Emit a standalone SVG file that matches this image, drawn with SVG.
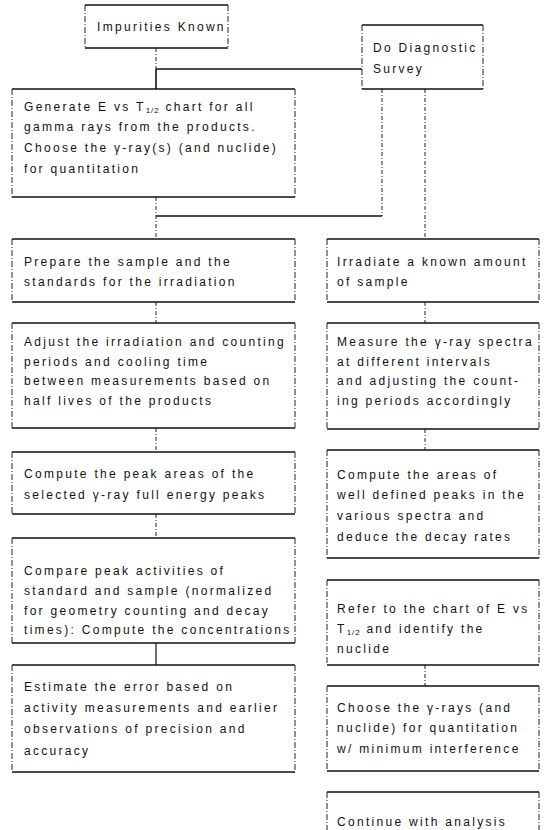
<svg xmlns="http://www.w3.org/2000/svg" width="546" height="830" viewBox="0 0 546 830">
<style>
.bg{fill:#fff}
.hl{stroke:#111;stroke-width:1.6;fill:none}
.vl{stroke:#222;stroke-width:1;stroke-dasharray:6 2 1 2;fill:none}
.cd{stroke:#222;stroke-width:1;stroke-dasharray:4 2 1 2;fill:none}
.cs{stroke:#111;stroke-width:1.6;fill:none}
text{font-family:"Liberation Sans",Arial,sans-serif;font-size:12px;letter-spacing:2.3px;fill:#111}
.sub{font-size:8px;letter-spacing:1px}
</style>
<rect class="bg" x="0" y="0" width="546" height="830"/>
<g id="connectors">
<path class="cd" d="M156 48V69"/>
<path class="cs" d="M156 69V89"/>
<path class="cs" d="M156 69H362"/>
<path class="cd" d="M382 89V216"/>
<path class="cs" d="M156 216H382"/>
<path class="cd" d="M156 197V239"/>
<path class="cd" d="M425 89V239"/>
<path class="cd" d="M156 302V323"/>
<path class="cd" d="M425 302V323"/>
<path class="cd" d="M156 428V452"/>
<path class="cd" d="M425 429V450"/>
<path class="cd" d="M156 514V538"/>
<path class="cs" d="M156 643V665" style="stroke-width:1.2"/>
<path class="cd" d="M425 665V686"/>
</g>
<g id="impurities">
<path class="hl" d="M85 5H228M85 48H228"/><path class="vl" d="M85 5V48M228 5V48"/>
<text x="97" y="31">Impurities Known</text>
</g>
<g id="diagnostic">
<path class="hl" d="M362 25H483M362 89H483"/><path class="vl" d="M362 25V89M483 25V89"/>
<text x="373" y="52">Do Diagnostic</text>
<text x="373" y="73">Survey</text>
</g>
<g id="generate">
<path class="hl" d="M12 89H295M12 197H295"/><path class="vl" d="M12 89V197M295 89V197"/>
<text x="24" y="111">Generate E vs T<tspan class="sub" dy="2">1/2</tspan><tspan dy="-2"> chart for all</tspan></text>
<text x="24" y="131">gamma rays from the products.</text>
<text x="24" y="152">Choose the γ-ray(s) (and nuclide)</text>
<text x="24" y="173">for quantitation</text>
</g>
<g id="prepare">
<path class="hl" d="M12 239H295M12 302H295"/><path class="vl" d="M12 239V302M295 239V302"/>
<text x="24" y="266">Prepare the sample and the</text>
<text x="24" y="286">standards for the irradiation</text>
</g>
<g id="irradiate">
<path class="hl" d="M327 239H539M327 302H539"/><path class="vl" d="M327 239V302M539 239V302"/>
<text x="337" y="266">Irradiate a known amount</text>
<text x="337" y="286">of sample</text>
</g>
<g id="adjust">
<path class="hl" d="M12 323H295M12 428H295"/><path class="vl" d="M12 323V428M295 323V428"/>
<text x="24" y="346">Adjust the irradiation and counting</text>
<text x="24" y="366">periods and cooling time</text>
<text x="24" y="385">between measurements based on</text>
<text x="24" y="405">half lives of the products</text>
</g>
<g id="measure">
<path class="hl" d="M327 323H539M327 429H539"/><path class="vl" d="M327 323V429M539 323V429"/>
<text x="337" y="346">Measure the γ-ray spectra</text>
<text x="337" y="366">at different intervals</text>
<text x="337" y="385">and adjusting the count-</text>
<text x="337" y="405">ing periods accordingly</text>
</g>
<g id="compute-peak">
<path class="hl" d="M12 452H295M12 514H295"/><path class="vl" d="M12 452V514M295 452V514"/>
<text x="24" y="478">Compute the peak areas of the</text>
<text x="24" y="499">selected γ-ray full energy peaks</text>
</g>
<g id="compute-areas">
<path class="hl" d="M327 450H539M327 558H539"/><path class="vl" d="M327 450V558M539 450V558"/>
<text x="337" y="479">Compute the areas of</text>
<text x="337" y="499">well defined peaks in the</text>
<text x="337" y="520">various spectra and</text>
<text x="337" y="541">deduce the decay rates</text>
</g>
<g id="compare">
<path class="hl" d="M12 538H295M12 643H295"/><path class="vl" d="M12 538V643M295 538V643"/>
<text x="24" y="575">Compare peak activities of</text>
<text x="24" y="595">standard and sample (normalized</text>
<text x="24" y="615">for geometry counting and decay</text>
<text x="24" y="634">times): Compute the concentrations</text>
</g>
<g id="refer">
<path class="hl" d="M327 580H539M327 665H539"/><path class="vl" d="M327 580V665M539 580V665"/>
<text x="337" y="613">Refer to the chart of E vs</text>
<text x="337" y="633">T<tspan class="sub" dy="2">1/2</tspan><tspan dy="-2"> and identify the</tspan></text>
<text x="337" y="653">nuclide</text>
</g>
<g id="estimate">
<path class="hl" d="M12 665H295M12 772H295"/><path class="vl" d="M12 665V772M295 665V772"/>
<text x="24" y="691">Estimate the error based on</text>
<text x="24" y="712">activity measurements and earlier</text>
<text x="24" y="733">observations of precision and</text>
<text x="24" y="755">accuracy</text>
</g>
<g id="choose">
<path class="hl" d="M327 686H539M327 771H539"/><path class="vl" d="M327 686V771M539 686V771"/>
<text x="337" y="712">Choose the γ-rays (and</text>
<text x="337" y="732">nuclide) for quantitation</text>
<text x="337" y="753">w/ minimum interference</text>
</g>
<g id="continue">
<path class="hl" d="M327 792H539"/><path class="vl" d="M327 792V830M539 792V830"/>
<text x="337" y="826">Continue with analysis</text>
</g>
</svg>
